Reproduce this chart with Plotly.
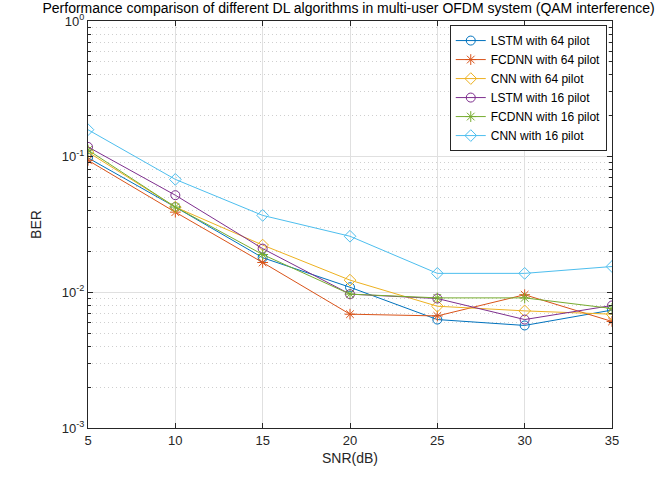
import plotly.graph_objects as go

snr = [5, 10, 15, 20, 25, 30, 35]

lstm64 = [0.098, 0.0425, 0.018, 0.0109, 0.0063, 0.0057, 0.0074]
fcdnn64 = [0.094, 0.039, 0.0166, 0.0069, 0.0067, 0.0096, 0.0061]
cnn64 = [0.108, 0.0425, 0.0223, 0.0123, 0.0079, 0.0073, 0.0069]
lstm16 = [0.118, 0.052, 0.021, 0.0097, 0.0090, 0.0063, 0.0080]
fcdnn16 = [0.112, 0.0425, 0.019, 0.0097, 0.0091, 0.0091, 0.0076]
cnn16 = [0.158, 0.068, 0.0369, 0.0259, 0.0138, 0.0138, 0.0155]

series = [
    ("LSTM with 64 pilot", lstm64, "#0072BD", "circle-open"),
    ("FCDNN with 64 pilot", fcdnn64, "#D95319", "asterisk-open"),
    ("CNN with 64 pilot", cnn64, "#EDB120", "diamond-open"),
    ("LSTM with 16 pilot", lstm16, "#7E2F8E", "circle-open"),
    ("FCDNN with 16 pilot", fcdnn16, "#77AC30", "asterisk-open"),
    ("CNN with 16 pilot", cnn16, "#4DBEEE", "diamond-open"),
]

ytick_vals = [1e-3, 1e-2, 1e-1, 1]
ytick_text = ["10<sup>-3</sup>", "10<sup>-2</sup>", "10<sup>-1</sup>", "10<sup>0</sup>"]

fig = go.Figure()
for name, vals, color, sym in series:
    fig.add_trace(go.Scatter(
        x=snr, y=vals, name=name, mode="lines+markers",
        line=dict(color=color, width=1),
        marker=dict(symbol=sym, size=9, color=color, line=dict(color=color, width=1)),
    ))

axis_col = "#262626"
fig.update_layout(
    width=659, height=485,
    margin=dict(l=88, r=47, t=17, b=57),
    paper_bgcolor="white", plot_bgcolor="white",
    font=dict(family="Liberation Sans, Arial, sans-serif", size=13, color=axis_col),
    title=dict(
        text="Performance comparison of different DL algorithms in multi-user OFDM system (QAM interference)",
        x=0.529, xanchor="center", yref="container", y=0.984, yanchor="middle",
        font=dict(size=14, color="#000000"),
    ),
    showlegend=True,
    legend=dict(
        x=0.99, xanchor="right", y=0.99, yanchor="top",
        bgcolor="white", bordercolor=axis_col, borderwidth=1,
        font=dict(size=12, color="#000000"),
        tracegroupgap=0, itemwidth=30,
    ),
)

fig.update_xaxes(
    range=[5, 35], tickvals=snr, ticks="inside", ticklen=5, tickcolor=axis_col,
    showline=True, linecolor=axis_col, linewidth=1, mirror="allticks",
    showgrid=True, gridcolor="#e0e0e0", gridwidth=1, zeroline=False,
    title=dict(text="SNR(dB)", font=dict(size=14), standoff=6),
)
fig.update_yaxes(
    type="log", range=[-3, 0], tickvals=ytick_vals, ticktext=ytick_text,
    ticks="inside", ticklen=5, tickcolor=axis_col,
    showline=True, linecolor=axis_col, linewidth=1, mirror="allticks",
    showgrid=True, gridcolor="#e0e0e0", gridwidth=1, zeroline=False,
    minor=dict(dtick="D1", ticks="inside", ticklen=3, tickcolor=axis_col,
               showgrid=True, gridcolor="#cfcfcf", griddash="1px,3px", gridwidth=1),
    title=dict(text="BER", font=dict(size=14), standoff=16),
)

fig.write_html("out.html", config={"displayModeBar": False},
               post_script="document.body.style.margin='0';")
